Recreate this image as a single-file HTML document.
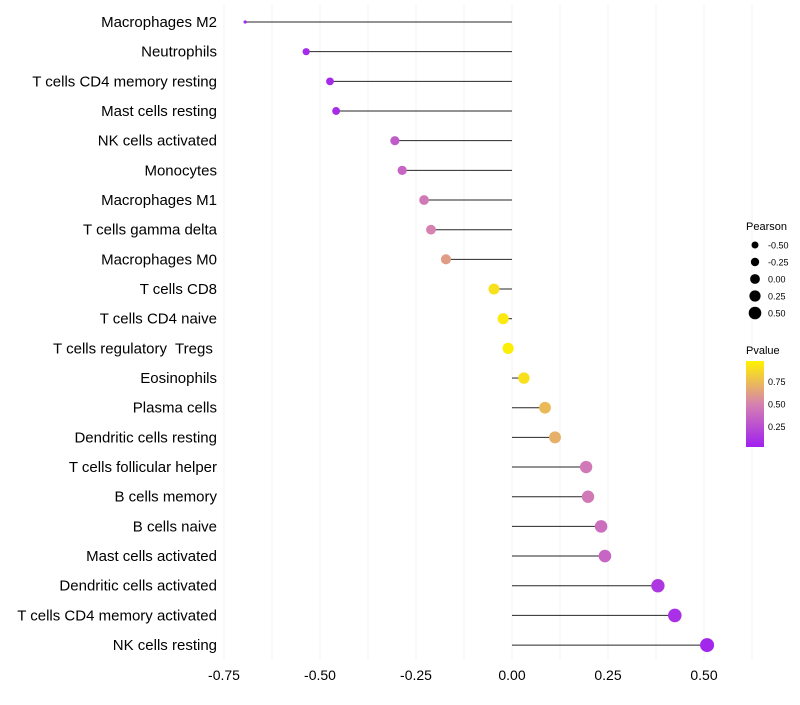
<!DOCTYPE html>
<html><head><meta charset="utf-8"><style>
body{margin:0;background:#fff;font-family:"Liberation Sans",sans-serif}
text{white-space:pre}
</style></head><body>
<svg id="c" width="800" height="700" xmlns="http://www.w3.org/2000/svg"></svg>
<script>
const categories=["Macrophages M2","Neutrophils","T cells CD4 memory resting","Mast cells resting","NK cells activated","Monocytes","Macrophages M1","T cells gamma delta","Macrophages M0","T cells CD8","T cells CD4 naive","T cells regulatory  Tregs ","Eosinophils","Plasma cells","Dendritic cells resting","T cells follicular helper","B cells memory","B cells naive","Mast cells activated","Dendritic cells activated","T cells CD4 memory activated","NK cells resting"];
const pearson=[-0.695,-0.536,-0.474,-0.458,-0.305,-0.286,-0.229,-0.211,-0.172,-0.047,-0.023,-0.010,0.031,0.086,0.112,0.193,0.198,0.232,0.242,0.380,0.424,0.508];
const pvalues=[0.02,0.05,0.05,0.06,0.3,0.35,0.45,0.5,0.62,0.92,0.96,0.98,0.92,0.75,0.7,0.45,0.45,0.4,0.35,0.12,0.08,0.03];
const xTicks=[-0.75,-0.5,-0.25,0,0.25,0.5];
const xTickLabels=["-0.75","-0.50","-0.25","0.00","0.25","0.50"];
const sizeLegend=[-0.5,-0.25,0,0.25,0.5];
const pTicks=[0.25,0.5,0.75];
const NS="http://www.w3.org/2000/svg";
const svg=document.getElementById('c');
const x=v=>512+v*384;
const y=i=>22+i*29.67;
const rad=v=>v<-0.6?1.6:Math.sqrt(Math.max(31.45+34.5*v,2));
function col(p){const s=[[0,[160,32,240]],[0.5,[214,130,176]],[1,[255,242,0]]];
 let a=s[0],b=s[1];if(p>0.5){a=s[1];b=s[2];}
 const t=(p-a[0])/(b[0]-a[0]);return `rgb(${a[1].map((c,k)=>Math.round(c+(b[1][k]-c)*t)).join(',')})`;}
function el(t,at,txt){const e=document.createElementNS(NS,t);for(const k in at)e.setAttribute(k,at[k]);if(txt!=null)e.textContent=txt;svg.appendChild(e);return e;}
for(let v=-0.75;v<=0.626;v+=0.125){
 const g=el('line',{x1:x(v),x2:x(v),y1:5,y2:660,stroke:'#f3f3f3','stroke-width':1});
 
 
}
xTicks.forEach((v,i)=>{
 const t=el('text',{x:x(v),y:680,'text-anchor':'middle','font-size':14,fill:'#000'},xTickLabels[i]);
 
 
});
categories.forEach((c,i)=>{
 const t=el('text',{x:217,y:y(i)+5,'text-anchor':'end','font-size':15,fill:'#000'},c);
 
 
 const l=el('line',{x1:x(0),x2:x(pearson[i]),y1:y(i),y2:y(i),stroke:'#000','stroke-width':1,'stroke-opacity':0.85});
 
 
 const p=el('circle',{cx:x(pearson[i]),cy:y(i),r:rad(pearson[i]),fill:col(pvalues[i])});
 
 
});
const lt=el('text',{x:746,y:230,'font-size':11},'Pearson');


const legR=[3.5,4.2,4.9,5.6,6.3];
sizeLegend.forEach((v,i)=>{
 const cy=245+i*17;
 const c=el('circle',{cx:755,cy:cy,r:legR[i],fill:'#000'});
 
 
 const t=el('text',{x:768,y:cy+3.5,'font-size':9},xTickLabels[i+1]);
 
 
});
const pt=el('text',{x:746,y:354,'font-size':11},'Pvalue');


const defs=el('defs',{});
const lg=document.createElementNS(NS,'linearGradient');
lg.setAttribute('id','pg');lg.setAttribute('x1','0');lg.setAttribute('y1','1');lg.setAttribute('x2','0');lg.setAttribute('y2','0');
[0,0.25,0.5,0.75,1].forEach(o=>{const s=document.createElementNS(NS,'stop');s.setAttribute('offset',o);s.setAttribute('stop-color',col(o));lg.appendChild(s);});
defs.appendChild(lg);
const bar=el('rect',{x:746,y:361,width:18,height:86,fill:'url(#pg)'});


pTicks.forEach(p=>{
 const cy=447-(p-0.02)/(0.98-0.02)*86;
 const t=el('text',{x:768,y:cy+3.5,'font-size':9},p.toFixed(2));
 
 
});
</script>
</body></html>
